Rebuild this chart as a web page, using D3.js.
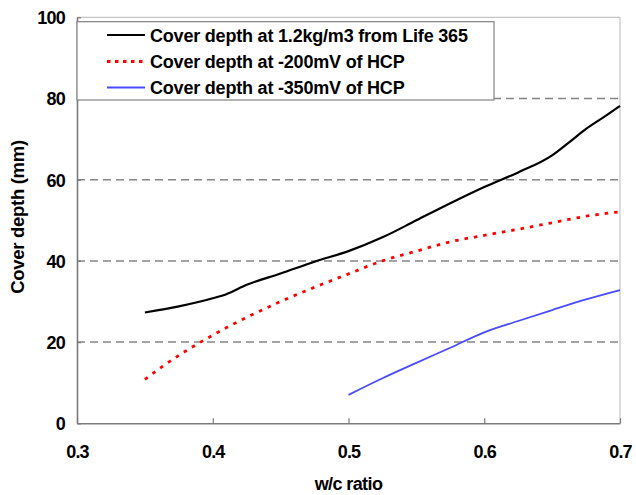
<!DOCTYPE html>
<html>
<head>
<meta charset="utf-8">
<script src="https://cdn.jsdelivr.net/npm/d3@7"></script>
<style>
  html, body { margin: 0; padding: 0; background: #fff; }
  svg { display: block; }
  text { font-family: "Liberation Sans", Arial, sans-serif; font-weight: bold; fill: #000; }
</style>
</head>
<body>
<svg id="chart" width="636" height="495"></svg>
<script>
// w/c ratio values along the x axis
const wcLife = [0.35, 0.375, 0.40, 0.41, 0.425, 0.45, 0.475, 0.50, 0.525, 0.55, 0.575, 0.60, 0.625, 0.65, 0.6625, 0.675, 0.6875, 0.70];
const coverLife = [27.3, 28.8, 30.8, 31.8, 34.1, 36.9, 39.8, 42.4, 45.8, 50.0, 54.2, 58.2, 61.8, 66.0, 69.2, 72.5, 75.3, 78.2];

const wc200 = [0.35, 0.3625, 0.375, 0.3875, 0.40, 0.4125, 0.425, 0.45, 0.475, 0.50, 0.525, 0.55, 0.575, 0.60, 0.625, 0.65, 0.675, 0.70];
const cover200 = [10.8, 13.9, 16.7, 19.3, 21.7, 24.0, 26.1, 30.0, 33.5, 36.8, 40.0, 42.4, 44.7, 46.3, 47.8, 49.4, 51.0, 52.1];

const wc350 = [0.50, 0.525, 0.55, 0.575, 0.60, 0.625, 0.65, 0.675, 0.70];
const cover350 = [7.0, 11.1, 14.9, 18.6, 22.4, 25.2, 27.9, 30.5, 32.8];

const xTicks = [0.3, 0.4, 0.5, 0.6, 0.7];
const yTicks = [0, 20, 40, 60, 80, 100];
const gridValues = [20, 40, 60, 80];

const legendLabels = [
  "Cover depth at 1.2kg/m3 from Life 365",
  "Cover depth at -200mV of HCP",
  "Cover depth at -350mV of HCP"
];

const svg = d3.select("#chart");
const plotLeft = 77, plotRight = 620, plotTop = 17.3, plotBottom = 423.3;

const x = d3.scaleLinear().domain([0.3, 0.7]).range([plotLeft, plotRight]);
const y = d3.scaleLinear().domain([0, 100]).range([plotBottom, plotTop]);

// light frame on top and right
svg.append("line").attr("x1", plotLeft).attr("x2", plotRight).attr("y1", plotTop).attr("y2", plotTop)
  .attr("stroke", "#c4c4c4").attr("stroke-width", 1.2);
svg.append("line").attr("x1", plotRight).attr("x2", plotRight).attr("y1", plotTop).attr("y2", plotBottom)
  .attr("stroke", "#c4c4c4").attr("stroke-width", 1.2);

// dashed horizontal gridlines
svg.append("g").selectAll("line").data(gridValues).join("line")
  .attr("x1", plotLeft).attr("x2", plotRight)
  .attr("y1", d => y(d)).attr("y2", d => y(d))
  .attr("stroke", "#858585").attr("stroke-width", 1.5)
  .attr("stroke-dasharray", "8,5");

// axes
const xAxis = d3.axisBottom(x).tickValues(xTicks).tickSizeInner(-5).tickSizeOuter(0).tickFormat(d3.format(".1f"));
const yAxis = d3.axisLeft(y).tickValues(yTicks).tickSizeInner(-4).tickSizeOuter(0);

const gx = svg.append("g").attr("transform", `translate(0,${plotBottom})`).call(xAxis);
const gy = svg.append("g").attr("transform", `translate(${plotLeft},0)`).call(yAxis);

[gx, gy].forEach(g => {
  g.select(".domain").attr("stroke", "#7a7a7a").attr("stroke-width", 1.6);
  g.selectAll(".tick line").attr("stroke", "#7a7a7a").attr("stroke-width", 1.2);
  g.selectAll(".tick text")
    .attr("font-family", '"Liberation Sans", Arial, sans-serif')
    .attr("font-weight", "bold")
    .attr("font-size", 18)
    .attr("letter-spacing", -0.8)
    .attr("fill", "#000");
});
gx.selectAll(".tick text").attr("y", 35).attr("dy", 0);
gy.selectAll(".tick text").attr("x", -12).attr("dy", "0.36em");

// series lines
const line = d3.line().x(d => x(d[0])).y(d => y(d[1])).curve(d3.curveMonotoneX);

const series = [
  { xs: wcLife, ys: coverLife, color: "#000000", width: 2.2, dash: null },
  { xs: wc200, ys: cover200, color: "#ff0000", width: 2.8, dash: "3.5,6" },
  { xs: wc350, ys: cover350, color: "#4a4aff", width: 1.8, dash: null }
];

svg.append("g").selectAll("path").data(series).join("path")
  .attr("d", s => line(s.xs.map((v, i) => [v, s.ys[i]])))
  .attr("fill", "none")
  .attr("stroke", s => s.color)
  .attr("stroke-width", s => s.width)
  .attr("stroke-dasharray", s => s.dash);

// legend
const legend = svg.append("g");
legend.append("rect")
  .attr("x", plotLeft).attr("y", 21.7).attr("width", 494 - plotLeft).attr("height", 100 - 21.7)
  .attr("fill", "#fff").attr("stroke", "#808080").attr("stroke-width", 1.2);

const rowsY = [35, 61.5, 87.5];
const items = legend.selectAll("g.item").data(series).join("g").attr("class", "item")
  .attr("transform", (d, i) => `translate(0,${rowsY[i]})`);
items.append("line")
  .attr("x1", 107).attr("x2", 145).attr("y1", 0).attr("y2", 0)
  .attr("stroke", s => s.color)
  .attr("stroke-width", s => s.width)
  .attr("stroke-dasharray", s => s.dash ? "3.5,4.5" : null);
items.append("text")
  .attr("x", 150).attr("y", 6.5)
  .attr("font-size", 18)
  .attr("letter-spacing", -0.2)
  .text((d, i) => legendLabels[i]);

// axis titles
svg.append("text")
  .attr("x", (plotLeft + plotRight) / 2).attr("y", 490)
  .attr("text-anchor", "middle")
  .attr("font-size", 18)
  .attr("letter-spacing", -0.6)
  .text("w/c ratio");

svg.append("text")
  .attr("transform", "translate(24,217) rotate(-90)")
  .attr("text-anchor", "middle")
  .attr("font-size", 18.5)
  .attr("letter-spacing", -0.3)
  .text("Cover depth (mm)");
</script>
</body>
</html>
